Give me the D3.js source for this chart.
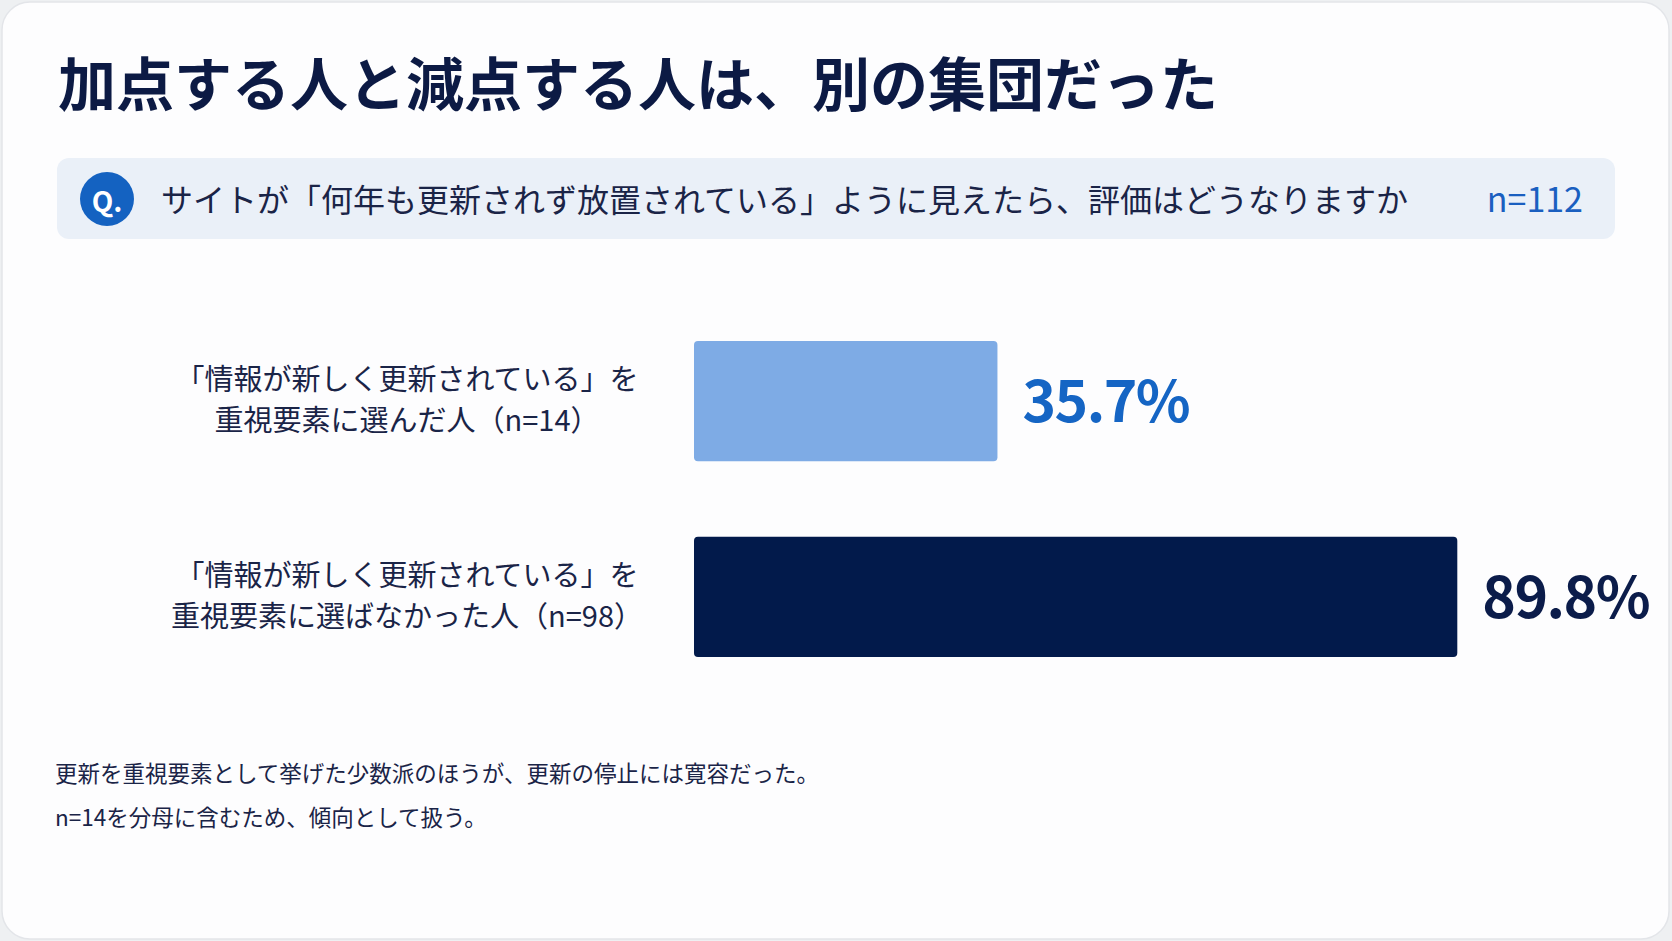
<!DOCTYPE html>
<html lang="ja">
<head>
<meta charset="utf-8">
<script src="https://cdn.jsdelivr.net/npm/d3@7"></script>
<style>
  html, body { margin: 0; padding: 0; background: #eef0f2; }
  svg { display: block; font-family: "Noto Sans CJK JP", "Noto Sans", sans-serif; }
</style>
</head>
<body>
<svg id="chart"></svg>
<script>
// データ
const title = '加点する人と減点する人は、別の集団だった';
const question = 'サイトが「何年も更新されず放置されている」ように見えたら、評価はどうなりますか';
const sampleSize = 'n=112';
const groups = ['update_chosen', 'update_not_chosen'];
const groupLabels = [
  ['「情報が新しく更新されている」を', '重視要素に選んだ人（n=14）'],
  ['「情報が新しく更新されている」を', '重視要素に選ばなかった人（n=98）']
];
const values = [35.7, 89.8];
const notes = [
  '更新を重視要素として挙げた少数派のほうが、更新の停止には寛容だった。',
  'n=14を分母に含むため、傾向として扱う。'
];

// 寸法
const width = 1672;
const height = 941;

const svg = d3.select('#chart')
  .attr('width', width)
  .attr('height', height);

// カード
svg.append('rect')
  .attr('x', 2).attr('y', 2)
  .attr('width', width - 5).attr('height', height - 4)
  .attr('rx', 28)
  .attr('fill', '#fdfdfe')
  .attr('stroke', '#e3e5e9')
  .attr('stroke-width', 1.5);

// タイトル
svg.append('text')
  .attr('x', 58)
  .attr('y', 81)
  .attr('dominant-baseline', 'central')
  .attr('font-size', 58)
  .attr('font-weight', 700)
  .attr('fill', '#0c1a44')
  .text(title);

// 設問ボックス
const q = svg.append('g');
q.append('rect')
  .attr('x', 57).attr('y', 158)
  .attr('width', 1558).attr('height', 81)
  .attr('rx', 12)
  .attr('fill', '#eaf0f8');
q.append('circle')
  .attr('cx', 107).attr('cy', 199)
  .attr('r', 27)
  .attr('fill', '#1462c1');
q.append('text')
  .attr('x', 107).attr('y', 200)
  .attr('text-anchor', 'middle')
  .attr('dominant-baseline', 'central')
  .attr('font-size', 28)
  .attr('font-weight', 700)
  .attr('fill', '#ffffff')
  .text('Q.');
q.append('text')
  .attr('x', 161).attr('y', 198)
  .attr('dominant-baseline', 'central')
  .attr('font-size', 32)
  .attr('fill', '#1a2447')
  .text(question);
q.append('text')
  .attr('x', 1583).attr('y', 212)
  .attr('text-anchor', 'end')
  .attr('font-size', 34)
  .attr('fill', '#1a5fc0')
  .text(sampleSize);

// スケール
const x = d3.scaleLinear()
  .domain([0, 100])
  .range([694, 694 + 850]);

const y = d3.scaleBand()
  .domain(groups)
  .range([341, 657])
  .paddingInner(0.385);

const barColor = d3.scaleOrdinal()
  .domain(groups)
  .range(['#7eabe5', '#021a4b']);

const valueColor = d3.scaleOrdinal()
  .domain(groups)
  .range(['#1565c4', '#0b1c4a']);

// 棒
svg.append('g')
  .selectAll('rect')
  .data(groups)
  .enter().append('rect')
  .attr('x', x(0))
  .attr('y', d => y(d))
  .attr('width', (d, i) => x(values[i]) - x(0))
  .attr('height', y.bandwidth())
  .attr('rx', 4)
  .attr('fill', d => barColor(d));

// 値ラベル
svg.append('g')
  .selectAll('text')
  .data(groups)
  .enter().append('text')
  .attr('x', (d, i) => x(values[i]) + 25)
  .attr('y', d => y(d) + y.bandwidth() / 2 + 21)
  .attr('font-size', 57)
  .attr('font-weight', 700)
  .attr('letter-spacing', -1.5)
  .attr('fill', d => valueColor(d))
  .text((d, i) => values[i].toFixed(1) + '%');

// カテゴリラベル
const labels = svg.append('g')
  .selectAll('text')
  .data(groups)
  .enter().append('text')
  .attr('x', 407)
  .attr('y', d => y(d) + y.bandwidth() / 2)
  .attr('text-anchor', 'middle')
  .attr('font-size', 29)
  .attr('fill', '#1a2447');

labels.selectAll('tspan')
  .data((d, i) => groupLabels[i])
  .enter().append('tspan')
  .attr('x', 407)
  .attr('dy', (d, i) => i === 0 ? -24 : 41)
  .attr('dominant-baseline', 'central')
  .text(d => d);

// 注記
svg.append('g')
  .selectAll('text')
  .data(notes)
  .enter().append('text')
  .attr('x', 55)
  .attr('y', (d, i) => 772 + i * 44)
  .attr('dominant-baseline', 'central')
  .attr('font-size', 22.5)
  .attr('fill', '#1a2447')
  .text(d => d);
</script>
</body>
</html>
